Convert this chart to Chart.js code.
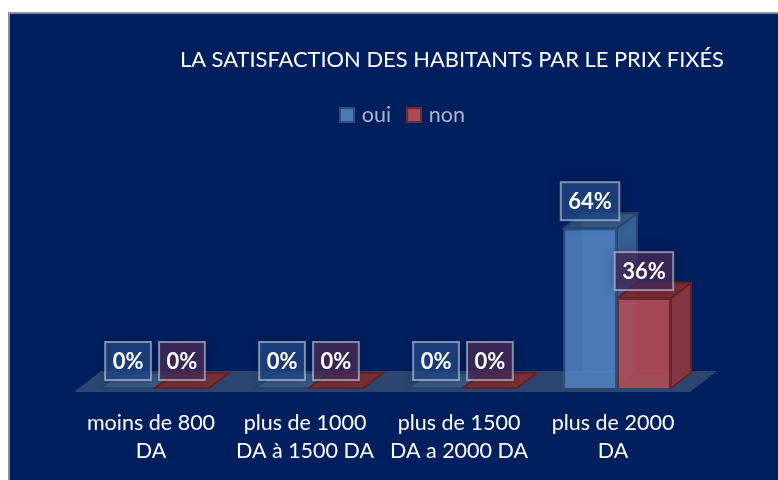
<!DOCTYPE html>
<html>
<head>
<meta charset="utf-8">
<script src="https://cdn.jsdelivr.net/npm/chart.js@4"></script>
<style>
  body { margin: 0; background: #fff; overflow: hidden; }
  #panel { position: absolute; left: 8px; top: 12px; width: 770px; height: 468px; box-sizing: border-box;
    background: #001f5f; border-left: 2px solid #8a8f98; border-top: 2px solid #8a8f98; }
  canvas { position: absolute; left: 0; top: 0; }
</style>
</head>
<body>
<div id="panel"></div>
<canvas id="chart" width="778" height="480"></canvas>
<script>
let categories = [
  ['moins de 800', 'DA'],
  ['plus de 1000', 'DA à 1500 DA'],
  ['plus de 1500', 'DA a 2000 DA'],
  ['plus de 2000', 'DA']
]
let oui = [0, 0, 0, 64]
let non = [0, 0, 0, 36]
let titleText = 'LA SATISFACTION DES HABITANTS PAR LE PRIX FIXÉS'

const FONT = 'Lato, "Open Sans", sans-serif'
const DX = 20
const DY = 15

function face(ctx, pts, fill, stroke) {
  ctx.beginPath()
  ctx.moveTo(pts[0][0], pts[0][1])
  for (let i = 1; i < pts.length; i++) ctx.lineTo(pts[i][0], pts[i][1])
  ctx.closePath()
  ctx.fillStyle = fill
  ctx.fill()
  ctx.strokeStyle = stroke
  ctx.lineWidth = 2
  ctx.stroke()
}

// legend swatch as a small canvas, so the text can sit closer than boxWidth allows
function swatch(fill, stroke) {
  let c = document.createElement('canvas')
  c.width = 16
  c.height = 16
  let g = c.getContext('2d')
  g.fillStyle = fill
  g.fillRect(1, 1, 14, 14)
  g.strokeStyle = stroke
  g.lineWidth = 2
  g.strokeRect(1, 1, 14, 14)
  return c
}

// fake 3d: floor and the back faces sit behind the real bars
const depthPlugin = {
  id: 'depth',
  afterLayout(chart) {
    // title and legend are not centered on the plot in the original
    chart.titleBlock.right = 724
    chart.legend.left += 18
    chart.legend.right += 18
  },
  beforeDatasetsDraw(chart) {
    const ctx = chart.ctx
    const base = chart.scales.y.getPixelForValue(0)
    const l = chart.scales.x.left - 4
    const r = chart.scales.x.right - 4
    ctx.save()
    ctx.beginPath()
    ctx.moveTo(l, base + 4)
    ctx.lineTo(r, base + 4)
    ctx.lineTo(r + 27, base - 17)
    ctx.lineTo(l + 27, base - 17)
    ctx.closePath()
    ctx.fillStyle = '#2c4671'
    ctx.fill()
    const looks = [
      { side: 'rgba(60,100,150,0.8)', top: 'rgba(62,96,140,0.75)', back: 'rgba(74,121,180,0.5)', line: 'rgba(35,70,110,0.9)' },
      { side: 'rgba(135,55,65,0.9)', top: 'rgba(128,45,50,0.9)', back: 'rgba(150,60,65,0.5)', line: 'rgba(100,35,35,0.95)' }
    ]
    chart.data.datasets.forEach((ds, d) => {
      chart.getDatasetMeta(d).data.forEach(bar => {
        const x0 = bar.x - bar.width / 2
        const x1 = bar.x + bar.width / 2
        const y = bar.y
        const b = bar.base
        const look = looks[d]
        face(ctx, [[x0 + DX, y - DY], [x1 + DX, y - DY], [x1 + DX, b - DY], [x0 + DX, b - DY]], look.back, look.line)
        face(ctx, [[x1, y], [x1 + DX, y - DY], [x1 + DX, b - DY], [x1, b]], look.side, look.line)
        face(ctx, [[x0, y], [x1, y], [x1 + DX, y - DY], [x0 + DX, y - DY]], look.top, look.line)
      })
    })
    ctx.restore()
  },
  afterDatasetsDraw(chart) {
    const ctx = chart.ctx
    const fills = ['rgba(33,72,135,0.78)', 'rgba(72,42,90,0.78)']
    ctx.save()
    ctx.font = 'bold 22px ' + FONT
    ctx.textAlign = 'center'
    ctx.textBaseline = 'middle'
    chart.data.datasets.forEach((ds, d) => {
      chart.getDatasetMeta(d).data.forEach((bar, i) => {
        const txt = ds.data[i] + '%'
        const w = ctx.measureText(txt).width + 15
        const cx = bar.x
        const cy = bar.y - 27
        ctx.save()
        ctx.shadowColor = 'rgba(0,0,0,0.35)'
        ctx.shadowBlur = 12
        ctx.fillStyle = fills[d]
        ctx.fillRect(cx - w / 2, cy - 19, w, 38)
        ctx.restore()
        ctx.strokeStyle = 'rgba(200,210,225,0.6)'
        ctx.lineWidth = 2
        ctx.strokeRect(cx - w / 2, cy - 19, w, 38)
        ctx.fillStyle = '#fff'
        ctx.fillText(txt, cx, cy + 1)
      })
    })
    ctx.restore()
  }
}

new Chart(document.getElementById('chart'), {
  type: 'bar',
  data: {
    labels: categories,
    datasets: [
      {
        label: 'oui', data: oui, backgroundColor: 'rgba(79,129,189,0.88)', borderColor: 'rgba(45,85,125,0.9)', borderWidth: 2,
        pointStyle: swatch('#4a79b4', '#2b5078')
      },
      {
        label: 'non', data: non, backgroundColor: 'rgba(176,75,85,0.9)', borderColor: 'rgba(115,40,40,0.95)', borderWidth: 2,
        pointStyle: swatch('#a84c55', '#6e2a30')
      }
    ]
  },
  options: {
    responsive: false,
    animation: false,
    layout: { padding: { left: 78, right: 84, top: 0, bottom: 0 } },
    datasets: { bar: { categoryPercentage: 0.7, barPercentage: 1 } },
    scales: {
      x: {
        grid: { display: false, drawTicks: false },
        border: { display: false },
        afterFit(scale) { scale.height = 92 },
        ticks: {
          color: '#fff',
          font: { family: FONT, size: 21.5, lineHeight: 1.3 },
          labelOffset: -4,
          padding: 21,
          maxRotation: 0,
          autoSkip: false
        }
      },
      y: { display: false, min: 0, max: 101 }
    },
    plugins: {
      tooltip: { enabled: false },
      title: {
        display: true,
        text: titleText,
        align: 'end',
        color: '#fff',
        font: { family: FONT, size: 21.9, weight: 'normal', lineHeight: 1.2 },
        padding: { top: 47, bottom: 12 }
      },
      legend: {
        display: true,
        position: 'top',
        labels: {
          color: '#a9b6cc',
          font: { family: FONT, size: 21.5 },
          usePointStyle: true,
          pointStyleWidth: 8,
          boxHeight: 15,
          padding: 19
        }
      }
    }
  },
  plugins: [depthPlugin]
})
</script>
</body>
</html>
